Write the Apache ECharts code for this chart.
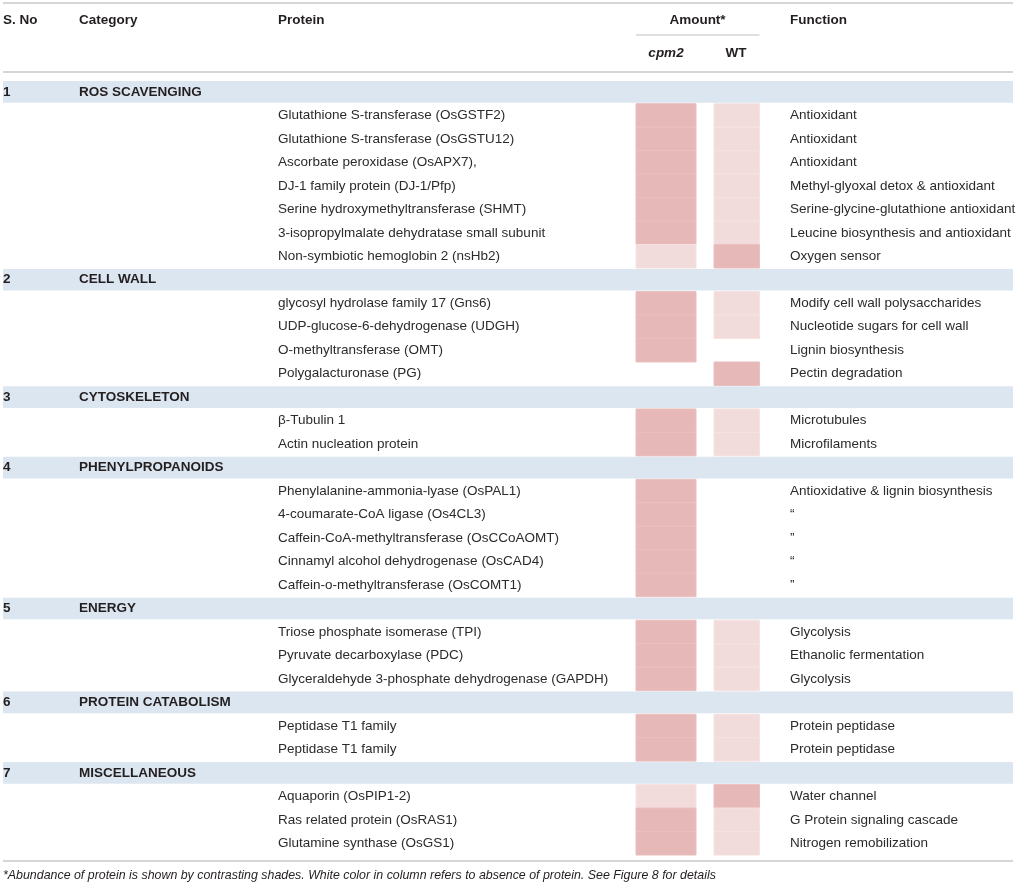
<!DOCTYPE html>
<html><head><meta charset="utf-8">
<script src="https://cdn.jsdelivr.net/npm/echarts@6.0.0/dist/echarts.min.js"></script>
<style>html,body{margin:0;padding:0;background:#fff}#c{width:1016px;height:886px}</style>
</head><body><div id="c"></div>
<script>
const headerLabels = ['S. No', 'Category', 'Protein', 'Amount*', 'Function'];
const amountLabels = ['cpm2', 'WT'];
const categoryNames = ['ROS SCAVENGING', 'CELL WALL', 'CYTOSKELETON', 'PHENYLPROPANOIDS', 'ENERGY', 'PROTEIN CATABOLISM', 'MISCELLANEOUS'];
const proteins = [
  'Glutathione S-transferase (OsGSTF2)',
  'Glutathione S-transferase (OsGSTU12)',
  'Ascorbate peroxidase (OsAPX7),',
  'DJ-1 family protein (DJ-1/Pfp)',
  'Serine hydroxymethyltransferase (SHMT)',
  '3-isopropylmalate dehydratase small subunit',
  'Non-symbiotic hemoglobin 2 (nsHb2)',
  'glycosyl hydrolase family 17 (Gns6)',
  'UDP-glucose-6-dehydrogenase (UDGH)',
  'O-methyltransferase (OMT)',
  'Polygalacturonase (PG)',
  '\u03b2-Tubulin 1',
  'Actin nucleation protein',
  'Phenylalanine-ammonia-lyase (OsPAL1)',
  '4-coumarate-CoA ligase (Os4CL3)',
  'Caffein-CoA-methyltransferase (OsCCoAOMT)',
  'Cinnamyl alcohol dehydrogenase (OsCAD4)',
  'Caffein-o-methyltransferase (OsCOMT1)',
  'Triose phosphate isomerase (TPI)',
  'Pyruvate decarboxylase (PDC)',
  'Glyceraldehyde 3-phosphate dehydrogenase (GAPDH)',
  'Peptidase T1 family',
  'Peptidase T1 family',
  'Aquaporin (OsPIP1-2)',
  'Ras related protein (OsRAS1)',
  'Glutamine synthase (OsGS1)'
];
const proteinCategory = [0,0,0,0,0,0,0, 1,1,1,1, 2,2, 3,3,3,3,3, 4,4,4, 5,5, 6,6,6];
// amount level: 2 = high (dark shade), 1 = low (light shade), 0 = absent (white)
const cpm2Amount = [2,2,2,2,2,2,1, 2,2,2,0, 2,2, 2,2,2,2,2, 2,2,2, 2,2, 1,2,2];
const wtAmount   = [1,1,1,1,1,1,2, 1,1,0,2, 1,1, 0,0,0,0,0, 1,1,1, 1,1, 2,1,1];
const functions = [
  'Antioxidant', 'Antioxidant', 'Antioxidant',
  'Methyl-glyoxal detox & antioxidant',
  'Serine-glycine-glutathione antioxidant',
  'Leucine biosynthesis and antioxidant',
  'Oxygen sensor',
  'Modify cell wall polysaccharides',
  'Nucleotide sugars for cell wall',
  'Lignin biosynthesis',
  'Pectin degradation',
  'Microtubules', 'Microfilaments',
  'Antioxidative & lignin biosynthesis', '\u201c', '\u201d', '\u201c', '\u201d',
  'Glycolysis', 'Ethanolic fermentation', 'Glycolysis',
  'Protein peptidase', 'Protein peptidase',
  'Water channel', 'G Protein signaling cascade', 'Nitrogen remobilization'
];
const footnote = '*Abundance of protein is shown by contrasting shades. White color in column refers to absence of protein. See Figure 8 for details';

// build table rows
const rows = [];
categoryNames.forEach((c, ci) => {
  rows.push({ type: 'cat', sno: String(ci + 1), name: c });
  proteins.forEach((p, pi) => {
    if (proteinCategory[pi] === ci) rows.push({ type: 'item', protein: p, func: functions[pi], cpm2: cpm2Amount[pi], wt: wtAmount[pi] });
  });
});
const rowIds = rows.map((r, i) => i);
const cpm2Data = [], wtData = [];
rows.forEach((r, i) => {
  if (r.type === 'item') { cpm2Data.push([i, r.cpm2]); wtData.push([i, r.wt]); }
});

const FONT = '"Liberation Sans", Arial, Helvetica, sans-serif';
const TXT = '#231f20';
const FS = 13.5;
const COLX = { sno: 3, cat: 79, protein: 278, func: 790 };
const SHADE = { 2: '#e6b8b7', 1: '#f2dcdb' };

function txt(text, x, y, opts) {
  opts = opts || {};
  return {
    type: 'text', x: x, y: y, silent: true,
    style: {
      text: text, fill: opts.fill || TXT,
      font: (opts.style || 'normal') + ' ' + (opts.weight || 'normal') + ' ' + (opts.size || FS) + 'px ' + FONT,
      align: opts.align || 'left', textAlign: opts.align || 'left',
      verticalAlign: 'middle', textVerticalAlign: 'middle'
    }
  };
}

function rowRender(params, api) {
  const i = api.value(0);
  const r = rows[i];
  const y = api.coord([0, i])[1];
  const h = api.size([0, 1])[1];
  const children = [];
  if (r.type === 'cat') {
    const a = api.coord([3, i]), b = api.coord([1013, i]);
    children.push({ type: 'rect', shape: { x: a[0], y: y - h / 2 + 0.9, width: b[0] - a[0], height: h - 1.8 }, style: { fill: '#dce6f1' } });
    children.push(txt(r.sno, api.coord([COLX.sno, i])[0], y, { weight: 'bold' }));
    children.push(txt(r.name, api.coord([COLX.cat, i])[0], y, { weight: 'bold' }));
  } else {
    children.push(txt(r.protein, api.coord([COLX.protein, i])[0], y, { fill: '#2b2b2b' }));
    children.push(txt(r.func, api.coord([COLX.func, i])[0], y, { fill: '#2b2b2b' }));
  }
  return { type: 'group', children: children };
}

function cellRender(x0, x1) {
  return function (params, api) {
    const i = api.value(0), level = api.value(1);
    if (!level) return null;
    const a = api.coord([x0, i]), b = api.coord([x1, i]);
    const h = api.size([0, 1])[1];
    return {
      type: 'rect',
      shape: { x: a[0], y: a[1] - h / 2, width: b[0] - a[0], height: h },
      style: { fill: SHADE[level], stroke: level === 2 ? '#e9c0bf' : '#f5e2e1', lineWidth: 1 }
    };
  };
}

const chart = echarts.init(document.getElementById('c'), null, { renderer: 'canvas' });
const ruleStyle = { stroke: '#c8c8c8', lineWidth: 1.5 };
chart.setOption({
  animation: false,
  backgroundColor: '#ffffff',
  grid: { left: 0, right: 0, top: 80.2, height: 33 * 23.48, containLabel: false },
  xAxis: { type: 'value', min: 0, max: 1016, show: false },
  yAxis: { type: 'category', data: rowIds, inverse: true, show: false },
  series: [
    { type: 'custom', name: 'rows', renderItem: rowRender, data: rowIds.map(i => [i]), encode: { y: 0 }, silent: true, z: 1 },
    { type: 'custom', name: amountLabels[0], renderItem: cellRender(636, 696), data: cpm2Data, encode: { y: 0 }, silent: true, z: 2 },
    { type: 'custom', name: amountLabels[1], renderItem: cellRender(714, 759.5), data: wtData, encode: { y: 0 }, silent: true, z: 2 }
  ],
  graphic: [
    { type: 'line', shape: { x1: 3, y1: 3, x2: 1013, y2: 3 }, style: ruleStyle, silent: true },
    { type: 'line', shape: { x1: 3, y1: 72, x2: 1013, y2: 72 }, style: ruleStyle, silent: true },
    { type: 'line', shape: { x1: 636, y1: 35, x2: 759.5, y2: 35 }, style: { stroke: '#c0c0c0', lineWidth: 1 }, silent: true },
    { type: 'line', shape: { x1: 3, y1: 861, x2: 1013, y2: 861 }, style: ruleStyle, silent: true },
    txt(headerLabels[0], COLX.sno, 20.5, { weight: 'bold' }),
    txt(headerLabels[1], COLX.cat, 20.5, { weight: 'bold' }),
    txt(headerLabels[2], COLX.protein, 20.5, { weight: 'bold' }),
    txt(headerLabels[3], 697.5, 20.5, { weight: 'bold', align: 'center' }),
    txt(headerLabels[4], COLX.func, 20.5, { weight: 'bold' }),
    txt(amountLabels[0], 666, 53.5, { weight: 'bold', style: 'italic', align: 'center' }),
    txt(amountLabels[1], 736, 53.5, { weight: 'bold', align: 'center' }),
    txt(footnote, 3, 876, { style: 'italic', size: 12.4 })
  ]
});
</script>
</body></html>
